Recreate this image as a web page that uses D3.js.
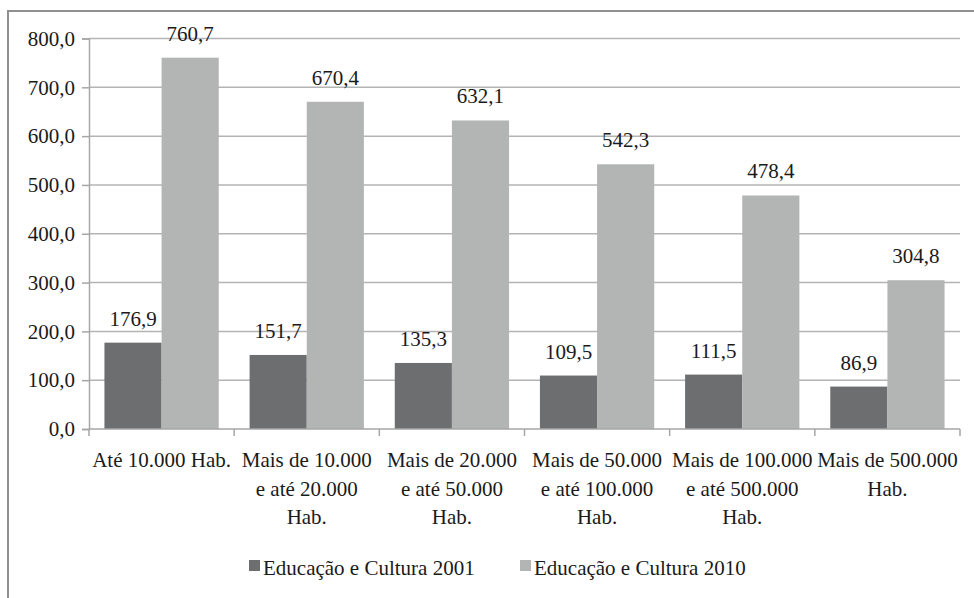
<!DOCTYPE html>
<html><head><meta charset="utf-8"><script src="https://cdn.jsdelivr.net/npm/d3@7"></script></head>
<body style="margin:0">
<svg id="chart" width="974" height="598"></svg>
<script>
const categories = [
  ["Até 10.000 Hab."],
  ["Mais de 10.000", "e até 20.000", "Hab."],
  ["Mais de 20.000", "e até 50.000", "Hab."],
  ["Mais de 50.000", "e até 100.000", "Hab."],
  ["Mais de 100.000", "e até 500.000", "Hab."],
  ["Mais de 500.000", "Hab."]
];
const seriesNames = ["Educação e Cultura 2001", "Educação e Cultura 2010"];
const values2001 = [176.9, 151.7, 135.3, 109.5, 111.5, 86.9];
const values2010 = [760.7, 670.4, 632.1, 542.3, 478.4, 304.8];
const yTicks = [0, 100, 200, 300, 400, 500, 600, 700, 800];
const colors = ["#6d6e70", "#b3b4b4"];

const FONT = "'Liberation Serif', monospace";
const svg = d3.select("#chart");
const pLeft = 89, pRight = 960, pTop = 38.5, pBottom = 429;
const fmt = v => d3.format(".1f")(v).replace(".", ",");
function styleText(sel) {
  sel.attr("font-family", FONT).style("font-family", FONT).attr("font-size", 21).attr("fill", "#1a1a1a");
}

// outer frame
svg.append("line").attr("x1", 8).attr("x2", 974).attr("y1", 11).attr("y2", 11)
  .attr("stroke", "#8e918f").attr("stroke-width", 2);
svg.append("line").attr("x1", 8).attr("x2", 8).attr("y1", 10).attr("y2", 598)
  .attr("stroke", "#8e918f").attr("stroke-width", 2);

const x0 = d3.scaleBand().domain(d3.range(categories.length)).range([pLeft, pRight]).paddingInner(0).paddingOuter(0);
const x1 = d3.scaleBand().domain([0, 1]).range([0, x0.bandwidth()]).paddingInner(0).paddingOuter(0.27);
const y = d3.scaleLinear().domain([0, 800]).range([pBottom, pTop]);

// gridlines
svg.append("g").selectAll("line").data(yTicks.filter(d => d > 0)).join("line")
  .attr("x1", pLeft).attr("x2", pRight)
  .attr("y1", d => y(d)).attr("y2", d => y(d))
  .attr("stroke", "#b4b4b4").attr("stroke-width", 1.5);

// y axis
const yAxis = svg.append("g").attr("transform", `translate(${pLeft},0)`)
  .call(d3.axisLeft(y).tickValues(yTicks).tickSize(7).tickPadding(7).tickFormat(fmt));
yAxis.attr("font-family", FONT).attr("font-size", 21);
yAxis.select(".domain").attr("stroke", "#a6a6a6").attr("stroke-width", 1.5);
yAxis.selectAll(".tick line").attr("stroke", "#a6a6a6").attr("stroke-width", 1.5);
yAxis.selectAll(".tick text").call(styleText);

// bars
const series = [values2001, values2010];
const groups = svg.append("g").selectAll("g").data(categories.map((c, i) => i)).join("g")
  .attr("transform", i => `translate(${x0(i)},0)`);
groups.selectAll("rect").data(i => series.map((s, k) => ({ k, v: s[i] }))).join("rect")
  .attr("x", d => x1(d.k)).attr("width", x1.bandwidth())
  .attr("y", d => y(d.v)).attr("height", d => pBottom - y(d.v))
  .attr("fill", d => colors[d.k]);
groups.selectAll("text.lbl").data(i => series.map((s, k) => ({ k, v: s[i] }))).join("text")
  .attr("class", "lbl")
  .attr("x", d => x1(d.k) + x1.bandwidth() / 2)
  .attr("y", d => y(d.v) - 17)
  .attr("text-anchor", "middle").call(styleText)
  .text(d => fmt(d.v));

// x axis
svg.append("line").attr("x1", pLeft).attr("x2", pRight).attr("y1", pBottom).attr("y2", pBottom)
  .attr("stroke", "#a6a6a6").attr("stroke-width", 1.5);
const boundaries = d3.range(categories.length + 1).map(i => i < categories.length ? x0(i) : pRight);
svg.append("g").selectAll("line").data(boundaries).join("line")
  .attr("x1", d => d).attr("x2", d => d).attr("y1", pBottom).attr("y2", pBottom + 7)
  .attr("stroke", "#a6a6a6").attr("stroke-width", 1.5);

const catText = svg.append("g").selectAll("text").data(categories).join("text")
  .attr("text-anchor", "middle").call(styleText)
  .attr("transform", (d, i) => `translate(${x0(i) + x0.bandwidth() / 2},467)`);
catText.selectAll("tspan").data(d => d).join("tspan")
  .attr("x", 0).attr("y", (d, j) => j * 28.5).text(d => d);

// legend
const legendX = [249, 520];
const lg = svg.append("g").selectAll("g").data(seriesNames).join("g")
  .attr("transform", (d, i) => `translate(${legendX[i]},560)`);
lg.append("rect").attr("width", 11).attr("height", 11).attr("fill", (d, i) => colors[i]);
lg.append("text").attr("x", 14).attr("y", 15).call(styleText).text(d => d);
</script>
</body>
</html>
